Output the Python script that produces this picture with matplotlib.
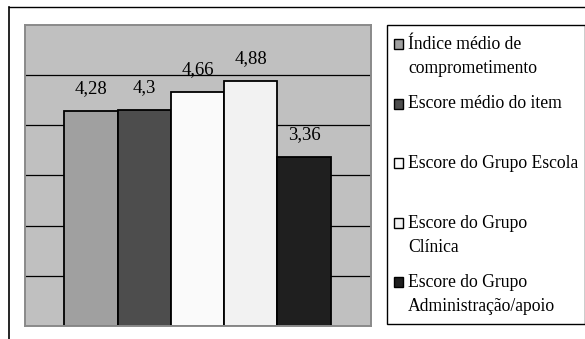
import matplotlib
matplotlib.use("Agg")
import matplotlib.pyplot as plt
from matplotlib.patches import Rectangle
from matplotlib.lines import Line2D

# Series shown in the chart
series_labels = [
    "Índice médio de\ncomprometimento",
    "Escore médio do item",
    "Escore do Grupo Escola",
    "Escore do Grupo\nClínica",
    "Escore do Grupo\nAdministração/apoio",
]
series_values = [4.28, 4.3, 4.66, 4.88, 3.36]
series_colors = ["#a0a0a0", "#4d4d4d", "#fafafa", "#f2f2f2", "#1f1f1f"]
y_gridlines = [1, 2, 3, 4, 5]

W, H = 585, 339
plt.rcParams["font.family"] = ["Liberation Serif", "DejaVu Serif"]

fig = plt.figure(figsize=(W / 100, H / 100), dpi=100)
fig.patch.set_facecolor("white")


def fx(x):
    return x / W


def fy(y):
    return 1 - y / H


# Plot area
left, top, right, bottom = 25, 24.5, 371, 326
ax = fig.add_axes([fx(left), fy(bottom), fx(right - left), (bottom - top) / H])
ax.set_facecolor("#c0c0c0")
ax.set_ylim(0, 6)
ax.set_xlim(-1.238, 5.256)
for yv in y_gridlines:
    ax.axhline(yv, color="black", lw=0.9, zorder=1)

xs = list(range(len(series_values)))
bars = ax.bar(xs, series_values, width=1.0, color=series_colors,
              edgecolor="black", linewidth=1.3, zorder=2)
for x, v in zip(xs, series_values):
    ax.annotate(f"{v:g}".replace(".", ","), xy=(x, v), xytext=(0, 13),
                textcoords="offset points", ha="center", va="baseline",
                fontsize=13.5, color="black")

ax.set_xticks([])
ax.set_yticks([])
for sp in ax.spines.values():
    sp.set_color("#8a8a8a")
    sp.set_linewidth(1.4)

# Outer chart frame (top and left edges)
fig.add_artist(Line2D([fx(9), fx(585)], [fy(7), fy(7)], color="black",
                      lw=1.0, transform=fig.transFigure))
fig.add_artist(Line2D([fx(9.3), fx(9.3)], [fy(7), fy(339)], color="black",
                      lw=1.2, transform=fig.transFigure))

# Legend box
fig.add_artist(Rectangle((fx(387), fy(324)), fx(584.5 - 387), (324 - 25) / H,
                         transform=fig.transFigure, facecolor="white",
                         edgecolor="black", lw=1.0))

first_baseline = 49
entry_step = 59.5
line_step = 24
for i, (lab, col) in enumerate(zip(series_labels, series_colors)):
    base = first_baseline + i * entry_step
    fig.add_artist(Rectangle((fx(394), fy(base)), fx(9), 10 / H,
                             transform=fig.transFigure, facecolor=col,
                             edgecolor="black", lw=1.0))
    for j, line in enumerate(lab.split("\n")):
        fig.text(fx(408), fy(base + j * line_step), line, fontsize=12.7,
                 ha="left", va="baseline", color="black")

fig.savefig("out.png", dpi=100)
